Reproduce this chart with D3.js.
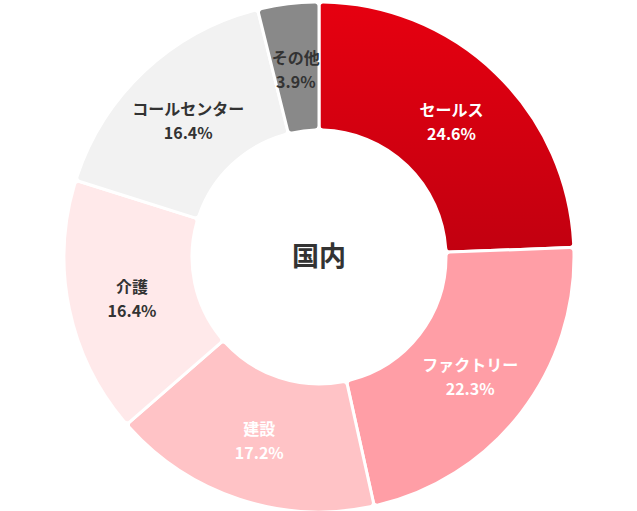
<!DOCTYPE html>
<html><head><meta charset="utf-8">
<script src="https://cdn.jsdelivr.net/npm/d3@7"></script>
<style>body{margin:0;background:#fff}</style></head>
<body><svg id="c" width="637" height="511"></svg>
<script>
const categories=["セールス","ファクトリー","建設","介護","コールセンター","その他"];
const values=[24.6,22.3,17.2,16.4,16.4,3.9];
const colors=["url(#g)","#ff9ea6","#ffc3c6","#ffe9ea","#f2f2f2","#898989"];
const textColors=["#fff","#fff","#fff","#333","#333","#333"];
const svg=d3.select("#c");
const defs=svg.append("defs");
const lg=defs.append("linearGradient").attr("id","g").attr("x1","0").attr("y1","0").attr("x2","0").attr("y2","1");
lg.append("stop").attr("offset","0").attr("stop-color","#e60010");
lg.append("stop").attr("offset","1").attr("stop-color","#c20010");
const cx=319,cy=257,R=255,r=127;
const g=svg.append("g").attr("transform",`translate(${cx},${cy})`);
const pie=d3.pie().sort(null).value(d=>d);
const arcs=pie(values);
const arc=d3.arc().innerRadius(r).outerRadius(R).cornerRadius(4);
g.selectAll("path").data(arcs).join("path").attr("d",arc)
 .attr("fill",(d,i)=>colors[i]).attr("stroke","#fff").attr("stroke-width",3);
const la=d3.arc().innerRadius(r).outerRadius(R);
const lab=g.selectAll("text.l").data(arcs).join("text").attr("class","l")
 .attr("transform",d=>`translate(${la.centroid(d)})`).attr("text-anchor","middle")
 .attr("font-family","Noto Sans CJK JP, Noto Sans, sans-serif").attr("font-weight","bold").attr("font-size",16)
 .attr("fill",(d,i)=>textColors[i]);
lab.append("tspan").attr("x",0).attr("dy","-0.2em").text((d,i)=>categories[i]);
lab.append("tspan").attr("x",0).attr("dy","1.5em").text((d,i)=>values[i].toFixed(1)+"%");
g.append("text").attr("text-anchor","middle").attr("dy","0.35em")
 .attr("font-family","Noto Sans CJK JP, sans-serif").attr("font-weight","bold").attr("font-size",27)
 .attr("fill","#333").text("国内");
</script></body></html>
